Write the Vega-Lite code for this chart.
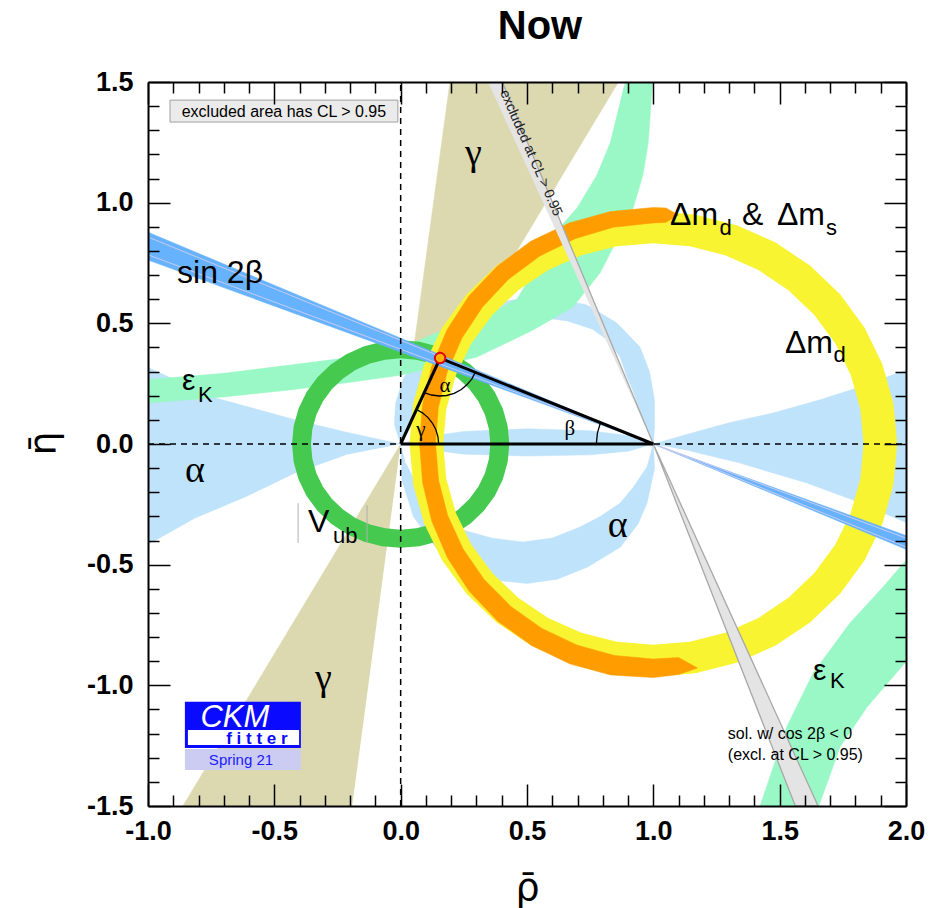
{
"$schema": "https://vega.github.io/schema/vega-lite/v6.json",
"width": 758, "height": 724, "autosize": "none",
"padding": {"left": 148, "top": 82, "right": 35, "bottom": 102},
"background": "white",
"config": {"view": {"stroke": null}, "font": "Liberation Sans"},
"title": {"text": "Now", "font": "Liberation Sans", "fontSize": 40, "fontWeight": "bold", "color": "black", "anchor": "middle", "frame": "group", "dx": 13, "offset": -11, "baseline": "alphabetic"},
"datasets": {
"gamma": [{"part":"g","x":0,"y":0},{"part":"g","x":0.195,"y":1.5},{"part":"g","x":0.862,"y":1.5},{"part":"g","x":0,"y":0},{"part":"g","x":-0.862,"y":-1.5},{"part":"g","x":-0.192,"y":-1.5}],
"alpha": [
{"part":"L","x":0,"y":0},{"part":"L","x":-0.22,"y":0.05},{"part":"L","x":-0.418,"y":0.1},{"part":"L","x":-0.747,"y":0.195},{"part":"L","x":-1.01,"y":0.322},{"part":"L","x":-1.01,"y":-0.422},{"part":"L","x":-0.814,"y":-0.307},{"part":"L","x":-0.616,"y":-0.22},{"part":"L","x":-0.418,"y":-0.12},{"part":"L","x":-0.22,"y":-0.046},
{"part":"R","x":1,"y":0},{"part":"R","x":1.15,"y":0.045},{"part":"R","x":1.3,"y":0.088},{"part":"R","x":1.474,"y":0.128},{"part":"R","x":1.65,"y":0.18},{"part":"R","x":1.806,"y":0.232},{"part":"R","x":2.01,"y":0.31},{"part":"R","x":2.01,"y":-0.33},{"part":"R","x":1.79,"y":-0.232},{"part":"R","x":1.608,"y":-0.162},{"part":"R","x":1.343,"y":-0.079},{"part":"R","x":1.15,"y":-0.03},
{"part":"lens","x":0,"y":0},{"part":"lens","x":0.1,"y":0.03},{"part":"lens","x":0.25,"y":0.052},{"part":"lens","x":0.5,"y":0.063},{"part":"lens","x":0.75,"y":0.055},{"part":"lens","x":0.9,"y":0.035},{"part":"lens","x":1,"y":0},{"part":"lens","x":0.9,"y":-0.03},{"part":"lens","x":0.75,"y":-0.045},{"part":"lens","x":0.5,"y":-0.05},{"part":"lens","x":0.25,"y":-0.042},{"part":"lens","x":0.1,"y":-0.022},
{"part":"up","x":0,"y":0},{"part":"up","x":-0.025,"y":0.08},{"part":"up","x":-0.02,"y":0.17},{"part":"up","x":0.01,"y":0.27},{"part":"up","x":0.07,"y":0.37},{"part":"up","x":0.167,"y":0.472},{"part":"up","x":0.28,"y":0.545},{"part":"up","x":0.393,"y":0.588},{"part":"up","x":0.5,"y":0.606},{"part":"up","x":0.6,"y":0.607},{"part":"up","x":0.737,"y":0.576},{"part":"up","x":0.856,"y":0.501},{"part":"up","x":0.947,"y":0.402},{"part":"up","x":0.985,"y":0.3},{"part":"up","x":1.005,"y":0.18},{"part":"up","x":1.005,"y":0.07},{"part":"up","x":1,"y":0},{"part":"up","x":0.985,"y":0.045},{"part":"up","x":0.955,"y":0.11},{"part":"up","x":0.92,"y":0.22},{"part":"up","x":0.896,"y":0.278},{"part":"up","x":0.868,"y":0.36},{"part":"up","x":0.82,"y":0.43},{"part":"up","x":0.76,"y":0.475},{"part":"up","x":0.66,"y":0.51},{"part":"up","x":0.55,"y":0.525},{"part":"up","x":0.44,"y":0.51},{"part":"up","x":0.33,"y":0.47},{"part":"up","x":0.22,"y":0.4},{"part":"up","x":0.13,"y":0.3},{"part":"up","x":0.07,"y":0.19},{"part":"up","x":0.03,"y":0.09},
{"part":"down","x":0,"y":0},{"part":"down","x":0.005,"y":-0.15},{"part":"down","x":0.05,"y":-0.3},{"part":"down","x":0.14,"y":-0.43},{"part":"down","x":0.26,"y":-0.52},{"part":"down","x":0.38,"y":-0.565},{"part":"down","x":0.5,"y":-0.578},{"part":"down","x":0.62,"y":-0.56},{"part":"down","x":0.74,"y":-0.51},{"part":"down","x":0.87,"y":-0.427},{"part":"down","x":0.94,"y":-0.33},{"part":"down","x":0.975,"y":-0.245},{"part":"down","x":1.005,"y":-0.1},{"part":"down","x":1,"y":0},{"part":"down","x":0.975,"y":-0.095},{"part":"down","x":0.92,"y":-0.18},{"part":"down","x":0.868,"y":-0.245},{"part":"down","x":0.79,"y":-0.3},{"part":"down","x":0.71,"y":-0.344},{"part":"down","x":0.6,"y":-0.39},{"part":"down","x":0.484,"y":-0.406},{"part":"down","x":0.36,"y":-0.39},{"part":"down","x":0.247,"y":-0.356},{"part":"down","x":0.15,"y":-0.29},{"part":"down","x":0.07,"y":-0.18},{"part":"down","x":0.02,"y":-0.08}
],
"epsK": [
{"part":"U","x":-1.01,"y":0.266},{"part":"U","x":-0.7,"y":0.293},{"part":"U","x":-0.438,"y":0.327},{"part":"U","x":-0.22,"y":0.356},{"part":"U","x":0,"y":0.395},{"part":"U","x":0.128,"y":0.455},{"part":"U","x":0.354,"y":0.54},{"part":"U","x":0.46,"y":0.6},{"part":"U","x":0.512,"y":0.69},{"part":"U","x":0.579,"y":0.837},{"part":"U","x":0.698,"y":0.978},{"part":"U","x":0.777,"y":1.115},{"part":"U","x":0.83,"y":1.25},{"part":"U","x":0.896,"y":1.53},{"part":"U","x":0.999,"y":1.53},{"part":"U","x":0.98,"y":1.25},{"part":"U","x":0.959,"y":1.115},{"part":"U","x":0.92,"y":0.978},{"part":"U","x":0.856,"y":0.845},{"part":"U","x":0.789,"y":0.709},{"part":"U","x":0.682,"y":0.568},{"part":"U","x":0.524,"y":0.472},{"part":"U","x":0.302,"y":0.36},{"part":"U","x":0,"y":0.285},{"part":"U","x":-0.22,"y":0.253},{"part":"U","x":-0.438,"y":0.224},{"part":"U","x":-0.7,"y":0.195},{"part":"U","x":-1.01,"y":0.169},
{"part":"D","x":1.416,"y":-1.52},{"part":"D","x":1.529,"y":-1.17},{"part":"D","x":1.632,"y":-0.95},{"part":"D","x":1.778,"y":-0.742},{"part":"D","x":1.909,"y":-0.593},{"part":"D","x":2.01,"y":-0.47},{"part":"D","x":2.01,"y":-0.89},{"part":"D","x":1.846,"y":-1.09},{"part":"D","x":1.739,"y":-1.256},{"part":"D","x":1.648,"y":-1.52}
],
"vub": [
{"part":"r","x":0.43,"y":0},{"part":"r","x":0.4235,"y":0.0746},{"part":"r","x":0.4041,"y":0.1471},{"part":"r","x":0.3724,"y":0.215},{"part":"r","x":0.3294,"y":0.2764},{"part":"r","x":0.2764,"y":0.3294},{"part":"r","x":0.215,"y":0.3724},{"part":"r","x":0.1471,"y":0.4041},{"part":"r","x":0.0746,"y":0.4235},{"part":"r","x":0,"y":0.43},{"part":"r","x":-0.0746,"y":0.4235},{"part":"r","x":-0.1471,"y":0.4041},{"part":"r","x":-0.215,"y":0.3724},{"part":"r","x":-0.2764,"y":0.3294},{"part":"r","x":-0.3294,"y":0.2764},{"part":"r","x":-0.3724,"y":0.215},{"part":"r","x":-0.4041,"y":0.1471},{"part":"r","x":-0.4235,"y":0.0746},{"part":"r","x":-0.43,"y":0},{"part":"r","x":-0.4235,"y":-0.0746},{"part":"r","x":-0.4041,"y":-0.1471},{"part":"r","x":-0.3724,"y":-0.215},{"part":"r","x":-0.3294,"y":-0.2764},{"part":"r","x":-0.2764,"y":-0.3294},{"part":"r","x":-0.215,"y":-0.3724},{"part":"r","x":-0.1471,"y":-0.4041},{"part":"r","x":-0.0746,"y":-0.4235},{"part":"r","x":0,"y":-0.43},{"part":"r","x":0.0746,"y":-0.4235},{"part":"r","x":0.1471,"y":-0.4041},{"part":"r","x":0.215,"y":-0.3724},{"part":"r","x":0.2764,"y":-0.3294},{"part":"r","x":0.3294,"y":-0.2764},{"part":"r","x":0.3724,"y":-0.215},{"part":"r","x":0.4041,"y":-0.1471},{"part":"r","x":0.4235,"y":-0.0746},{"part":"r","x":0.43,"y":0},
{"part":"r","x":0.355,"y":0},{"part":"r","x":0.3496,"y":-0.0616},{"part":"r","x":0.3336,"y":-0.1214},{"part":"r","x":0.3074,"y":-0.1775},{"part":"r","x":0.2719,"y":-0.2282},{"part":"r","x":0.2282,"y":-0.2719},{"part":"r","x":0.1775,"y":-0.3074},{"part":"r","x":0.1214,"y":-0.3336},{"part":"r","x":0.0616,"y":-0.3496},{"part":"r","x":0,"y":-0.355},{"part":"r","x":-0.0616,"y":-0.3496},{"part":"r","x":-0.1214,"y":-0.3336},{"part":"r","x":-0.1775,"y":-0.3074},{"part":"r","x":-0.2282,"y":-0.2719},{"part":"r","x":-0.2719,"y":-0.2282},{"part":"r","x":-0.3074,"y":-0.1775},{"part":"r","x":-0.3336,"y":-0.1214},{"part":"r","x":-0.3496,"y":-0.0616},{"part":"r","x":-0.355,"y":0},{"part":"r","x":-0.3496,"y":0.0616},{"part":"r","x":-0.3336,"y":0.1214},{"part":"r","x":-0.3074,"y":0.1775},{"part":"r","x":-0.2719,"y":0.2282},{"part":"r","x":-0.2282,"y":0.2719},{"part":"r","x":-0.1775,"y":0.3074},{"part":"r","x":-0.1214,"y":0.3336},{"part":"r","x":-0.0616,"y":0.3496},{"part":"r","x":0,"y":0.355},{"part":"r","x":0.0616,"y":0.3496},{"part":"r","x":0.1214,"y":0.3336},{"part":"r","x":0.1775,"y":0.3074},{"part":"r","x":0.2282,"y":0.2719},{"part":"r","x":0.2719,"y":0.2282},{"part":"r","x":0.3074,"y":0.1775},{"part":"r","x":0.3336,"y":0.1214},{"part":"r","x":0.3496,"y":0.0616},{"part":"r","x":0.355,"y":0}
],
"dmd": [
{"part":"r","x":1.965,"y":0},{"part":"r","x":1.9503,"y":0.1675},{"part":"r","x":1.9068,"y":0.33},{"part":"r","x":1.8357,"y":0.4825},{"part":"r","x":1.7392,"y":0.6203},{"part":"r","x":1.6203,"y":0.7392},{"part":"r","x":1.4825,"y":0.8357},{"part":"r","x":1.33,"y":0.9068},{"part":"r","x":1.1675,"y":0.9503},{"part":"r","x":1,"y":0.965},{"part":"r","x":0.8325,"y":0.9503},{"part":"r","x":0.67,"y":0.9068},{"part":"r","x":0.5175,"y":0.8357},{"part":"r","x":0.3797,"y":0.7392},{"part":"r","x":0.2608,"y":0.6203},{"part":"r","x":0.1643,"y":0.4825},{"part":"r","x":0.0932,"y":0.33},{"part":"r","x":0.0497,"y":0.1675},{"part":"r","x":0.035,"y":0},{"part":"r","x":0.0497,"y":-0.1675},{"part":"r","x":0.0932,"y":-0.33},{"part":"r","x":0.1643,"y":-0.4825},{"part":"r","x":0.2608,"y":-0.6203},{"part":"r","x":0.3797,"y":-0.7392},{"part":"r","x":0.5175,"y":-0.8357},{"part":"r","x":0.67,"y":-0.9068},{"part":"r","x":0.8325,"y":-0.9503},{"part":"r","x":1,"y":-0.965},{"part":"r","x":1.1675,"y":-0.9503},{"part":"r","x":1.33,"y":-0.9068},{"part":"r","x":1.4825,"y":-0.8357},{"part":"r","x":1.6203,"y":-0.7392},{"part":"r","x":1.7392,"y":-0.6203},{"part":"r","x":1.8357,"y":-0.4825},{"part":"r","x":1.9068,"y":-0.33},{"part":"r","x":1.9503,"y":-0.1675},{"part":"r","x":1.965,"y":0},
{"part":"r","x":1.832,"y":0},{"part":"r","x":1.8194,"y":-0.1445},{"part":"r","x":1.7818,"y":-0.2845},{"part":"r","x":1.7205,"y":-0.416},{"part":"r","x":1.6373,"y":-0.5348},{"part":"r","x":1.5348,"y":-0.6373},{"part":"r","x":1.416,"y":-0.7205},{"part":"r","x":1.2845,"y":-0.7818},{"part":"r","x":1.1445,"y":-0.8194},{"part":"r","x":1,"y":-0.832},{"part":"r","x":0.8555,"y":-0.8194},{"part":"r","x":0.7155,"y":-0.7818},{"part":"r","x":0.584,"y":-0.7205},{"part":"r","x":0.4652,"y":-0.6373},{"part":"r","x":0.3627,"y":-0.5348},{"part":"r","x":0.2795,"y":-0.416},{"part":"r","x":0.2182,"y":-0.2845},{"part":"r","x":0.1806,"y":-0.1445},{"part":"r","x":0.168,"y":0},{"part":"r","x":0.1806,"y":0.1445},{"part":"r","x":0.2182,"y":0.2845},{"part":"r","x":0.2795,"y":0.416},{"part":"r","x":0.3627,"y":0.5348},{"part":"r","x":0.4652,"y":0.6373},{"part":"r","x":0.584,"y":0.7205},{"part":"r","x":0.7155,"y":0.7818},{"part":"r","x":0.8555,"y":0.8194},{"part":"r","x":1,"y":0.832},{"part":"r","x":1.1445,"y":0.8194},{"part":"r","x":1.2845,"y":0.7818},{"part":"r","x":1.416,"y":0.7205},{"part":"r","x":1.5348,"y":0.6373},{"part":"r","x":1.6373,"y":0.5348},{"part":"r","x":1.7205,"y":0.416},{"part":"r","x":1.7818,"y":0.2845},{"part":"r","x":1.8194,"y":0.1445},{"part":"r","x":1.832,"y":0}
],
"dms": [
{"part":"o","x":1.1,"y":0.948},{"part":"o","x":1.05,"y":0.978},{"part":"o","x":1,"y":0.98},{"part":"o","x":0.83,"y":0.963},{"part":"o","x":0.667,"y":0.916},{"part":"o","x":0.515,"y":0.84},{"part":"o","x":0.382,"y":0.737},{"part":"o","x":0.27,"y":0.613},{"part":"o","x":0.183,"y":0.472},{"part":"o","x":0.122,"y":0.319},{"part":"o","x":0.086,"y":0.161},{"part":"o","x":0.075,"y":0},{"part":"o","x":0.087,"y":-0.161},{"part":"o","x":0.123,"y":-0.319},{"part":"o","x":0.185,"y":-0.471},{"part":"o","x":0.272,"y":-0.611},{"part":"o","x":0.384,"y":-0.734},{"part":"o","x":0.518,"y":-0.835},{"part":"o","x":0.669,"y":-0.911},{"part":"o","x":0.831,"y":-0.957},{"part":"o","x":1,"y":-0.968},{"part":"o","x":1.1,"y":-0.955},{"part":"o","x":1.175,"y":-0.928},{"part":"o","x":1.1,"y":-0.885},{"part":"o","x":1,"y":-0.891},{"part":"o","x":0.846,"y":-0.876},{"part":"o","x":0.697,"y":-0.833},{"part":"o","x":0.559,"y":-0.764},{"part":"o","x":0.436,"y":-0.673},{"part":"o","x":0.331,"y":-0.562},{"part":"o","x":0.247,"y":-0.435},{"part":"o","x":0.186,"y":-0.296},{"part":"o","x":0.15,"y":-0.15},{"part":"o","x":0.138,"y":0},{"part":"o","x":0.149,"y":0.15},{"part":"o","x":0.184,"y":0.297},{"part":"o","x":0.242,"y":0.438},{"part":"o","x":0.324,"y":0.568},{"part":"o","x":0.427,"y":0.683},{"part":"o","x":0.551,"y":0.779},{"part":"o","x":0.69,"y":0.851},{"part":"o","x":0.842,"y":0.898},{"part":"o","x":1,"y":0.916},{"part":"o","x":1.05,"y":0.918}
],
"s2b": [{"part":"b","x":-1.01,"y":0.882},{"part":"b","x":1,"y":0},{"part":"b","x":2.01,"y":-0.441},{"part":"b","x":2.01,"y":-0.383},{"part":"b","x":1,"y":0},{"part":"b","x":-1.01,"y":0.766}],
"s2bl": [{"part":"a","x":-1.01,"y":0.788},{"part":"a","x":2.01,"y":-0.394},{"part":"b","x":-1.01,"y":0.862},{"part":"b","x":2.01,"y":-0.431}],
"grey": [{"part":"g","x":0.346,"y":1.5},{"part":"g","x":0.402,"y":1.5},{"part":"g","x":1,"y":0},{"part":"g","x":1.652,"y":-1.5},{"part":"g","x":1.562,"y":-1.5},{"part":"g","x":1,"y":0}],
"dash": [{"part":"h","x":-1,"y":0},{"part":"h","x":2,"y":0},{"part":"v","x":0,"y":-1.5},{"part":"v","x":0,"y":1.5}],
"tri": [{"x":0,"y":0},{"x":1,"y":0},{"x":0.156,"y":0.356},{"x":0,"y":0}],
"arcs": [
{"part":"a","x":0.295,"y":0.297},{"part":"a","x":0.282,"y":0.27},{"part":"a","x":0.262,"y":0.245},{"part":"a","x":0.24,"y":0.226},{"part":"a","x":0.212,"y":0.21},{"part":"a","x":0.182,"y":0.201},{"part":"a","x":0.153,"y":0.199},{"part":"a","x":0.122,"y":0.203},{"part":"a","x":0.093,"y":0.213},
{"part":"g","x":0.1504,"y":0},{"part":"g","x":0.1476,"y":0.03},{"part":"g","x":0.1394,"y":0.059},{"part":"g","x":0.1261,"y":0.0858},{"part":"g","x":0.1082,"y":0.1094},{"part":"g","x":0.0863,"y":0.129},{"part":"g","x":0.0626,"y":0.1432},
{"part":"b","x":0.7744,"y":0},{"part":"b","x":0.7786,"y":0.0451},{"part":"b","x":0.7907,"y":0.0881}
],
"apex": [{"x":0.156,"y":0.356}],
"vubBars": [{"x":-0.406,"y":-0.245,"y2":-0.41},{"x":-0.133,"y":-0.253,"y2":-0.41}],
"legendBox": [{"x":-0.913,"x2":-0.011,"y":1.425,"y2":1.334}],
"logoBlue": [{"x":-0.854,"x2":-0.395,"y":-1.068,"y2":-1.26}],
"logoWhite": [{"x":-0.842,"x2":-0.402,"y":-1.185,"y2":-1.247}],
"logoLav": [{"x":-0.854,"x2":-0.395,"y":-1.264,"y2":-1.351}],
"tBig": [{"x":1.066,"y":0.907,"text":"Δm"},{"x":1.351,"y":0.907,"text":"&"},{"x":1.489,"y":0.907,"text":"Δm"},{"x":1.521,"y":0.377,"text":"Δm"},{"x":-0.885,"y":0.667,"text":"sin 2β"},{"x":-0.367,"y":-0.365,"text":"V"}],
"tSub": [{"x":1.262,"y":0.866,"text":"d"},{"x":1.683,"y":0.866,"text":"s"},{"x":1.713,"y":0.34,"text":"d"},{"x":-0.268,"y":-0.41,"text":"ub"},{"x":-0.802,"y":0.174,"text":"K"},{"x":1.699,"y":-1.011,"text":"K"}],
"tEps": [{"x":-0.865,"y":0.224,"text":"ε"},{"x":1.632,"y":-0.978,"text":"ε"}],
"tGreek": [{"x":-0.854,"y":-0.157,"text":"α"},{"x":0.82,"y":-0.385,"text":"α"},{"x":0.255,"y":1.156,"text":"γ"},{"x":-0.339,"y":-1.019,"text":"γ"}],
"tAngles": [{"x":0.175,"y":0.24,"text":"α"},{"x":0.08,"y":0.058,"text":"γ"},{"x":0.67,"y":0.062,"text":"β"}],
"tNote": [{"x":1.295,"y":-1.222,"text":"sol. w/ cos 2β < 0"},{"x":1.295,"y":-1.309,"text":"(excl. at CL > 0.95)"}],
"tLegend": [{"x":-0.462,"y":1.355,"text":"excluded area has CL > 0.95"}],
"tExcl": [{"x":0.515,"y":1.206,"text":"excluded at CL > 0.95"}],
"tCKM": [{"x":-0.656,"y":-1.173,"text":"CKM"}],
"tFitter": [{"x":-0.569,"y":-1.243,"text":"f i t t e r"}],
"tSpring": [{"x":-0.632,"y":-1.33,"text":"Spring 21"}]
},
"resolve": {"axis": {"x": "independent", "y": "independent"}},
"layer": [
{
"encoding": {
 "x": {"field": "x", "type": "quantitative", "scale": {"domain": [-1, 2], "nice": false, "zero": false},
  "axis": {"orient": "bottom", "values": [-1,-0.5,0,0.5,1,1.5,2],
   "labelExpr": "(datum.value<-0.001 ? '-' : '') + format(abs(datum.value), '.1f')",
   "labelFont": "Liberation Sans", "labelFontSize": 27, "labelFontWeight": "bold", "labelColor": "black", "labelPadding": 34, "labelFlush": false, "labelOverlap": false, "labelBound": false,
   "ticks": true, "tickSize": -22, "tickColor": "black", "tickWidth": 1.5, "domainColor": "black", "domainWidth": 2, "grid": false, "zindex": 1,
   "title": "ρ̄", "titleFont": "DejaVu Sans", "titleFontSize": 38, "titleFontWeight": "normal", "titleColor": "black", "titleX": 379, "titleY": 93, "titleAlign": "center", "titleBaseline": "alphabetic"}},
 "y": {"field": "y", "type": "quantitative", "scale": {"domain": [-1.5, 1.5], "nice": false, "zero": false},
  "axis": {"orient": "left", "values": [-1.5,-1,-0.5,0,0.5,1,1.5],
   "labelExpr": "(datum.value<-0.001 ? '-' : '') + format(abs(datum.value), '.1f')",
   "labelFont": "Liberation Sans", "labelFontSize": 27, "labelFontWeight": "bold", "labelColor": "black", "labelPadding": 37, "labelFlush": false, "labelOverlap": false, "labelBound": false,
   "ticks": true, "tickSize": -22, "tickColor": "black", "tickWidth": 1.5, "domainColor": "black", "domainWidth": 2, "grid": false, "zindex": 1,
   "title": "η̄", "titleFont": "DejaVu Sans", "titleFontSize": 38, "titleFontWeight": "normal", "titleColor": "black", "titleX": -93, "titleY": 361, "titleAlign": "center", "titleBaseline": "alphabetic", "titleAngle": 270}}
},
"layer": [
 {"data": {"name": "gamma"}, "mark": {"type": "line", "fill": "#dcd9b1", "stroke": "#dcd9b1", "strokeWidth": 0.5, "clip": true}, "encoding": {"detail": {"field": "part"}, "order": {"value": null}}},
 {"data": {"name": "alpha"}, "mark": {"type": "line", "fill": "#bfe3fa", "stroke": "#bfe3fa", "strokeWidth": 0.5, "clip": true}, "encoding": {"detail": {"field": "part"}, "order": {"value": null}}},
 {"data": {"name": "epsK"}, "mark": {"type": "line", "fill": "#99f8c5", "stroke": "#99f8c5", "strokeWidth": 0.5, "clip": true}, "encoding": {"detail": {"field": "part"}, "order": {"value": null}}},
 {"data": {"name": "vub"}, "mark": {"type": "line", "fill": "#45c94f", "stroke": null, "strokeWidth": 0, "clip": true}, "encoding": {"detail": {"field": "part"}, "order": {"value": null}}},
 {"data": {"name": "dmd"}, "mark": {"type": "line", "fill": "#f8f432", "stroke": null, "strokeWidth": 0, "clip": true}, "encoding": {"detail": {"field": "part"}, "order": {"value": null}}},
 {"data": {"name": "dms"}, "mark": {"type": "line", "fill": "#ff9d00", "stroke": "#ff9d00", "strokeWidth": 0.5, "clip": true}, "encoding": {"detail": {"field": "part"}, "order": {"value": null}}},
 {"data": {"name": "s2b"}, "mark": {"type": "line", "fill": "#66b2fc", "stroke": "#66b2fc", "strokeWidth": 0.5, "clip": true}, "encoding": {"detail": {"field": "part"}, "order": {"value": null}}},
 {"data": {"name": "s2bl"}, "mark": {"type": "line", "stroke": "#c8cbf2", "strokeWidth": 1, "clip": true}, "encoding": {"detail": {"field": "part"}, "order": {"value": null}}},
 {"data": {"name": "grey"}, "mark": {"type": "line", "fill": "#e4e4e4", "stroke": "#a8a8a8", "strokeWidth": 1.3, "clip": true}, "encoding": {"detail": {"field": "part"}, "order": {"value": null}}},
 {"data": {"name": "vubBars"}, "mark": {"type": "rule", "stroke": "#b0b0b0", "strokeWidth": 1}, "encoding": {"y2": {"field": "y2"}}},
 {"data": {"name": "legendBox"}, "mark": {"type": "rect", "fill": "#ebebeb", "stroke": "#a0a0a0", "strokeWidth": 1}, "encoding": {"x2": {"field": "x2"}, "y2": {"field": "y2"}}},
 {"data": {"name": "logoBlue"}, "mark": {"type": "rect", "fill": "#0a0aff"}, "encoding": {"x2": {"field": "x2"}, "y2": {"field": "y2"}}},
 {"data": {"name": "logoWhite"}, "mark": {"type": "rect", "fill": "white"}, "encoding": {"x2": {"field": "x2"}, "y2": {"field": "y2"}}},
 {"data": {"name": "logoLav"}, "mark": {"type": "rect", "fill": "#ccccf2"}, "encoding": {"x2": {"field": "x2"}, "y2": {"field": "y2"}}},
 {"data": {"name": "tBig"}, "mark": {"type": "text", "font": "Liberation Sans", "fontSize": 32, "align": "left", "baseline": "alphabetic", "color": "black"}, "encoding": {"text": {"field": "text"}}},
 {"data": {"name": "tSub"}, "mark": {"type": "text", "font": "Liberation Sans", "fontSize": 22, "align": "left", "baseline": "alphabetic", "color": "black"}, "encoding": {"text": {"field": "text"}}},
 {"data": {"name": "tEps"}, "mark": {"type": "text", "font": "Liberation Sans", "fontSize": 30, "align": "left", "baseline": "alphabetic", "color": "black"}, "encoding": {"text": {"field": "text"}}},
 {"data": {"name": "tGreek"}, "mark": {"type": "text", "font": "Liberation Serif", "fontSize": 38, "align": "left", "baseline": "alphabetic", "color": "black"}, "encoding": {"text": {"field": "text"}}},
 {"data": {"name": "tAngles"}, "mark": {"type": "text", "font": "Liberation Serif", "fontSize": 21, "align": "center", "baseline": "middle", "color": "black"}, "encoding": {"text": {"field": "text"}}},
 {"data": {"name": "tNote"}, "mark": {"type": "text", "font": "Liberation Sans", "fontSize": 16, "align": "left", "baseline": "alphabetic", "color": "black"}, "encoding": {"text": {"field": "text"}}},
 {"data": {"name": "tLegend"}, "mark": {"type": "text", "font": "Liberation Sans", "fontSize": 16, "align": "center", "baseline": "alphabetic", "color": "black"}, "encoding": {"text": {"field": "text"}}},
 {"data": {"name": "tExcl"}, "mark": {"type": "text", "font": "Liberation Sans", "fontSize": 14, "align": "center", "baseline": "middle", "angle": 66.4, "color": "#222222"}, "encoding": {"text": {"field": "text"}}},
 {"data": {"name": "tCKM"}, "mark": {"type": "text", "font": "Liberation Sans", "fontSize": 31, "fontStyle": "italic", "align": "center", "baseline": "alphabetic", "color": "white"}, "encoding": {"text": {"field": "text"}}},
 {"data": {"name": "tFitter"}, "mark": {"type": "text", "font": "Liberation Sans", "fontSize": 17, "fontWeight": "bold", "align": "center", "baseline": "alphabetic", "color": "#0a0aff"}, "encoding": {"text": {"field": "text"}}},
 {"data": {"name": "tSpring"}, "mark": {"type": "text", "font": "Liberation Sans", "fontSize": 15, "align": "center", "baseline": "alphabetic", "color": "#1a1aff"}, "encoding": {"text": {"field": "text"}}}
]
},
{
"data": {"name": "dash"},
"mark": {"type": "line", "stroke": "black", "strokeWidth": 1.5, "strokeDash": [6, 5], "clip": true},
"encoding": {
 "x": {"field": "x", "type": "quantitative", "scale": {"domain": [-1, 2], "nice": false, "zero": false},
  "axis": {"orient": "bottom", "values": [-0.9,-0.8,-0.7,-0.6,-0.4,-0.3,-0.2,-0.1,0.1,0.2,0.3,0.4,0.6,0.7,0.8,0.9,1.1,1.2,1.3,1.4,1.6,1.7,1.8,1.9], "labels": false, "title": null, "domain": false,
   "ticks": true, "tickSize": -11, "tickColor": "black", "tickWidth": 1.5, "grid": false, "zindex": 1}},
 "y": {"field": "y", "type": "quantitative", "scale": {"domain": [-1.5, 1.5], "nice": false, "zero": false},
  "axis": {"orient": "left", "values": [-1.4,-1.3,-1.2,-1.1,-0.9,-0.8,-0.7,-0.6,-0.4,-0.3,-0.2,-0.1,0.1,0.2,0.3,0.4,0.6,0.7,0.8,0.9,1.1,1.2,1.3,1.4], "labels": false, "title": null, "domain": false,
   "ticks": true, "tickSize": -11, "tickColor": "black", "tickWidth": 1.5, "grid": false, "zindex": 1}},
 "detail": {"field": "part"},
 "order": {"value": null}
}
},
{
"data": {"name": "arcs"},
"mark": {"type": "line", "stroke": "black", "strokeWidth": 1.3, "clip": true},
"encoding": {
 "x": {"field": "x", "type": "quantitative", "scale": {"domain": [-1, 2], "nice": false, "zero": false},
  "axis": {"orient": "top", "values": [-0.9,-0.8,-0.7,-0.6,-0.4,-0.3,-0.2,-0.1,0.1,0.2,0.3,0.4,0.6,0.7,0.8,0.9,1.1,1.2,1.3,1.4,1.6,1.7,1.8,1.9], "labels": false, "title": null, "domain": false,
   "ticks": true, "tickSize": -11, "tickColor": "black", "tickWidth": 1.5, "grid": false, "zindex": 1}},
 "y": {"field": "y", "type": "quantitative", "scale": {"domain": [-1.5, 1.5], "nice": false, "zero": false},
  "axis": {"orient": "right", "values": [-1.4,-1.3,-1.2,-1.1,-0.9,-0.8,-0.7,-0.6,-0.4,-0.3,-0.2,-0.1,0.1,0.2,0.3,0.4,0.6,0.7,0.8,0.9,1.1,1.2,1.3,1.4], "labels": false, "title": null, "domain": false,
   "ticks": true, "tickSize": -11, "tickColor": "black", "tickWidth": 1.5, "grid": false, "zindex": 1}},
 "detail": {"field": "part"},
 "order": {"value": null}
}
},
{
"data": {"name": "tri"},
"layer": [
 {"mark": {"type": "line", "stroke": "black", "strokeWidth": 3, "strokeJoin": "miter", "clip": true},
  "encoding": {
   "x": {"field": "x", "type": "quantitative", "scale": {"domain": [-1, 2], "nice": false, "zero": false},
    "axis": {"orient": "top", "values": [-1,-0.5,0,0.5,1,1.5,2], "labels": false, "title": null,
     "ticks": true, "tickSize": -22, "tickColor": "black", "tickWidth": 1.5, "domainColor": "black", "domainWidth": 2, "grid": false, "zindex": 1}},
   "y": {"field": "y", "type": "quantitative", "scale": {"domain": [-1.5, 1.5], "nice": false, "zero": false},
    "axis": {"orient": "right", "values": [-1.5,-1,-0.5,0,0.5,1,1.5], "labels": false, "title": null,
     "ticks": true, "tickSize": -22, "tickColor": "black", "tickWidth": 1.5, "domainColor": "black", "domainWidth": 2, "grid": false, "zindex": 1}},
   "order": {"value": null}
  }},
 {"data": {"name": "apex"}, "mark": {"type": "point", "shape": "circle", "size": 110, "filled": true, "fill": "#ffb000", "stroke": "#e00010", "strokeWidth": 2, "opacity": 1},
  "encoding": {"x": {"field": "x", "type": "quantitative"}, "y": {"field": "y", "type": "quantitative"}}}
]
}
]
}
